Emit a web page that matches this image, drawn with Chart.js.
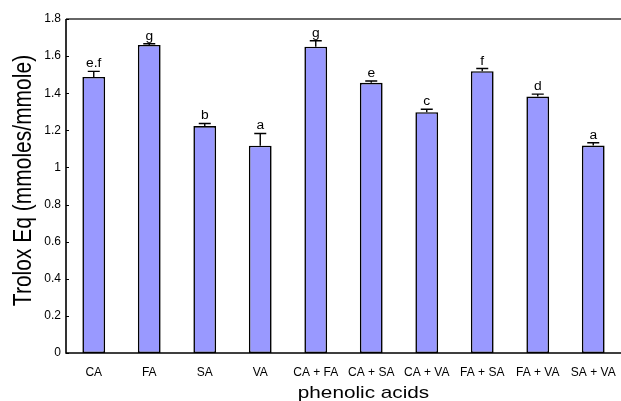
<!DOCTYPE html>
<html>
<head>
<meta charset="utf-8">
<script src="https://cdn.jsdelivr.net/npm/chart.js@4/dist/chart.umd.min.js"></script>
<style>
  html, body { margin: 0; padding: 0; background: #fff; }
  #wrap { width: 621px; height: 401px; }
</style>
</head>
<body>
<div id="wrap"><canvas id="c"></canvas></div>
<script>
// Antioxidant capacity of single phenolic acids and their binary mixtures
const categories = ['CA', 'FA', 'SA', 'VA', 'CA+FA', 'CA+SA', 'CA+VA', 'FA+SA', 'FA+VA', 'SA+VA'];
const troloxEq   = [1.488, 1.660, 1.223, 1.117, 1.651, 1.456, 1.298, 1.519, 1.382, 1.118];
const errors     = [0.030, 0.007, 0.014, 0.066, 0.032, 0.010, 0.016, 0.014, 0.013, 0.015];
const letters    = ['e.f', 'g', 'b', 'a', 'g', 'e', 'c', 'f', 'd', 'a'];
const yTicks     = [0, 0.2, 0.4, 0.6, 0.8, 1, 1.2, 1.4, 1.6, 1.8];

const FONT = '"Liberation Sans", Arial, Helvetica, sans-serif';

// error bars (upper whisker), significance letters, frame and axis titles
const decorations = {
  id: 'decorations',
  afterDatasetsDraw(chart) {
    const ctx = chart.ctx;
    const x = chart.scales.x, y = chart.scales.y;
    const area = chart.chartArea;
    ctx.save();
    ctx.strokeStyle = '#000';
    ctx.lineWidth = 1.4;
    troloxEq.forEach((v, i) => {
      const cx = x.getPixelForValue(i);
      const yTop = y.getPixelForValue(v + errors[i]);
      const yBar = y.getPixelForValue(v);
      ctx.beginPath();
      ctx.moveTo(cx, yBar);
      ctx.lineTo(cx, yTop);
      ctx.moveTo(cx - 6, yTop);
      ctx.lineTo(cx + 6, yTop);
      ctx.stroke();
      ctx.save();
      ctx.fillStyle = '#000';
      ctx.font = '12px ' + FONT;
      ctx.textAlign = 'center';
      ctx.textBaseline = 'alphabetic';
      ctx.translate(cx, yTop - 4);
      ctx.scale(1.15, 1);
      ctx.fillText(letters[i], 0, 0);
      ctx.restore();
    });
    // axis frame: left, bottom and top lines
    ctx.lineWidth = 1.6;
    ctx.strokeStyle = '#000';
    ctx.beginPath();
    ctx.moveTo(area.left, area.top);
    ctx.lineTo(area.left, area.bottom);
    ctx.lineTo(area.right, area.bottom);
    ctx.stroke();
    ctx.strokeStyle = '#333';
    ctx.beginPath();
    ctx.moveTo(area.left, area.top);
    ctx.lineTo(area.right, area.top);
    ctx.stroke();
    // inward tick marks on the value axis
    ctx.lineWidth = 1;
    ctx.strokeStyle = '#000';
    yTicks.forEach(t => {
      const py = Math.round(y.getPixelForValue(t)) + 0.5;
      ctx.beginPath();
      ctx.moveTo(area.left, py);
      ctx.lineTo(area.left + 3, py);
      ctx.stroke();
    });
    // axis titles
    ctx.fillStyle = '#000';
    ctx.textAlign = 'center';
    ctx.textBaseline = 'alphabetic';
    ctx.save();
    ctx.font = '17px ' + FONT;
    ctx.translate(363.5, 398);
    ctx.scale(1.22, 1);
    ctx.fillText('phenolic acids', 0, 0);
    ctx.restore();
    ctx.save();
    ctx.font = '21px ' + FONT;
    ctx.translate(31, 180.5);
    ctx.scale(1.2, 1);
    ctx.rotate(-Math.PI / 2);
    ctx.fillText('Trolox Eq (mmoles/mmole)', 0, 0);
    ctx.restore();
    ctx.restore();
  }
};

new Chart(document.getElementById('c'), {
  type: 'bar',
  data: {
    labels: categories,
    datasets: [{
      data: troloxEq,
      backgroundColor: '#9999ff',
      borderColor: '#000',
      borderWidth: 1.6,
      borderSkipped: false,
      categoryPercentage: 1,
      barPercentage: 0.41
    }]
  },
  options: {
    responsive: true,
    maintainAspectRatio: false,
    animation: false,
    layout: { padding: { top: 19, right: 0, left: 0, bottom: 0 } },
    plugins: { legend: { display: false }, tooltip: { enabled: false } },
    scales: {
      x: {
        grid: { display: false, drawTicks: false },
        border: { display: false },
        ticks: {
          color: '#000',
          font: { family: FONT, size: 12 },
          padding: 12,
          maxRotation: 0,
          autoSkip: false,
          callback: (v, i) => categories[i].split('+').join(' + ')
        },
        afterFit: s => { s.height = 48; s.paddingLeft = 0; s.paddingRight = 0; }
      },
      y: {
        min: 0,
        max: 1.8,
        afterBuildTicks: s => { s.ticks = yTicks.map(v => ({ value: v })); },
        grid: { display: false, drawTicks: false },
        border: { display: false },
        ticks: {
          color: '#000',
          font: { family: FONT, size: 12 },
          padding: 5,
          callback: v => String(Math.round(v * 10) / 10)
        },
        afterFit: s => { s.width = 66; s.paddingTop = 0; s.paddingBottom = 0; }
      }
    }
  },
  plugins: [decorations]
});
</script>
</body>
</html>
